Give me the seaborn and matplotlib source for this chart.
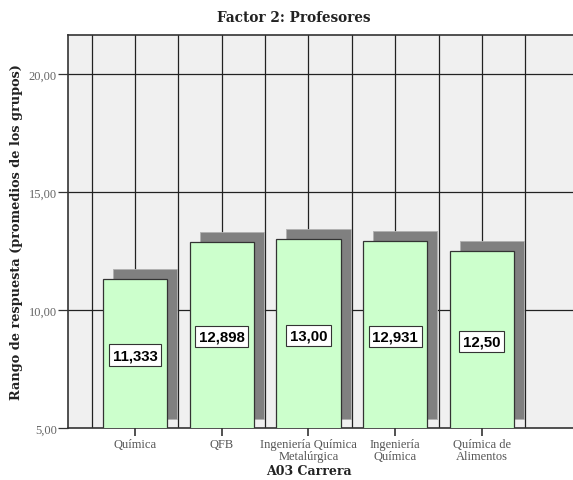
import numpy as np
import pandas as pd
import seaborn as sns
import matplotlib.pyplot as plt

# data
carreras = ["Química", "QFB", "Ingeniería Química\nMetalúrgica",
            "Ingeniería\nQuímica", "Química de\nAlimentos"]
promedios = [11.333, 12.898, 13.00, 12.931, 12.50]
etiquetas = ["11,333", "12,898", "13,00", "12,931", "12,50"]

df = pd.DataFrame({"carrera": carreras, "promedio": promedios})

sns.set_style("white")
plt.rcParams["font.family"] = ["DejaVu Serif", "DejaVu Sans"]

fig = plt.figure(figsize=(5.73, 4.81), dpi=100)
ax = fig.add_axes([68 / 573, 1 - 429 / 481, 1 - 68 / 573, (429 - 36) / 481])
ax.set_facecolor("#f0f0f0")

# shadow bars (offset right and up)
pos = np.arange(len(carreras))
ax.bar(pos + 0.115, np.array(promedios) + 0.42 - 5.38, bottom=5.38, width=0.74,
       color="#808080", edgecolor="#b0b0b0", linewidth=0.6, zorder=2)

sns.barplot(data=df, x="carrera", y="promedio", ax=ax, color="#ccffcc",
            saturation=1, width=0.74, edgecolor="#333333", linewidth=0.9,
            zorder=3)

for i, (v, txt) in enumerate(zip(promedios, etiquetas)):
    ax.text(i, (5 + v) / 2 - 0.08, txt, ha="center", va="center",
            fontsize=10.8, fontweight="bold", family="Liberation Sans",
            color="black", zorder=5,
            bbox=dict(boxstyle="square,pad=0.25", fc="white", ec="#333333", lw=0.8))

ax.set_ylim(5, 21.65)
ax.set_xlim(-0.772, 5.05)
ax.set_yticks([5, 10, 15, 20])
ax.set_yticklabels(["5,00", "10,00", "15,00", "20,00"])

# grid: horizontal at y ticks, vertical every half category
for y in [10, 15, 20]:
    ax.axhline(y, color="#222222", lw=0.9, zorder=1)
for xg in np.arange(-0.5, 5.0, 0.5):
    ax.axvline(xg, color="#222222", lw=0.9, zorder=1)

ax.tick_params(axis="y", direction="out", length=7, width=0.9, color="#333333",
               labelcolor="#666666", pad=1, left=True)
ax.tick_params(axis="x", direction="out", length=6, width=1.2, color="#333333",
               labelcolor="#555555", pad=1.5, bottom=True)
for lab in ax.get_xticklabels() + ax.get_yticklabels():
    lab.set_family("Liberation Serif")
    lab.set_fontsize(9)
for lab in ax.get_xticklabels():
    lab.set_linespacing(1.0)

for side in ["left", "bottom", "top"]:
    ax.spines[side].set_color("#333333")
    ax.spines[side].set_linewidth(1.2)
ax.spines["right"].set_visible(False)

ax.set_xlabel("A03 Carrera", fontsize=9, fontweight="bold", color="#222222")
ax.xaxis.set_label_coords((309 - 68) / (573 - 68), -0.092)
ax.set_ylabel("Rango de respuesta (promedios de los grupos)", fontsize=9.3,
              fontweight="bold", color="#222222")
ax.yaxis.set_label_coords(-0.09, 0.5)
fig.text(294 / 573, 1 - 18 / 481, "Factor 2: Profesores", ha="center",
         va="center", fontsize=9.8, fontweight="bold", color="#222222")

fig.savefig("out.png", dpi=100)
